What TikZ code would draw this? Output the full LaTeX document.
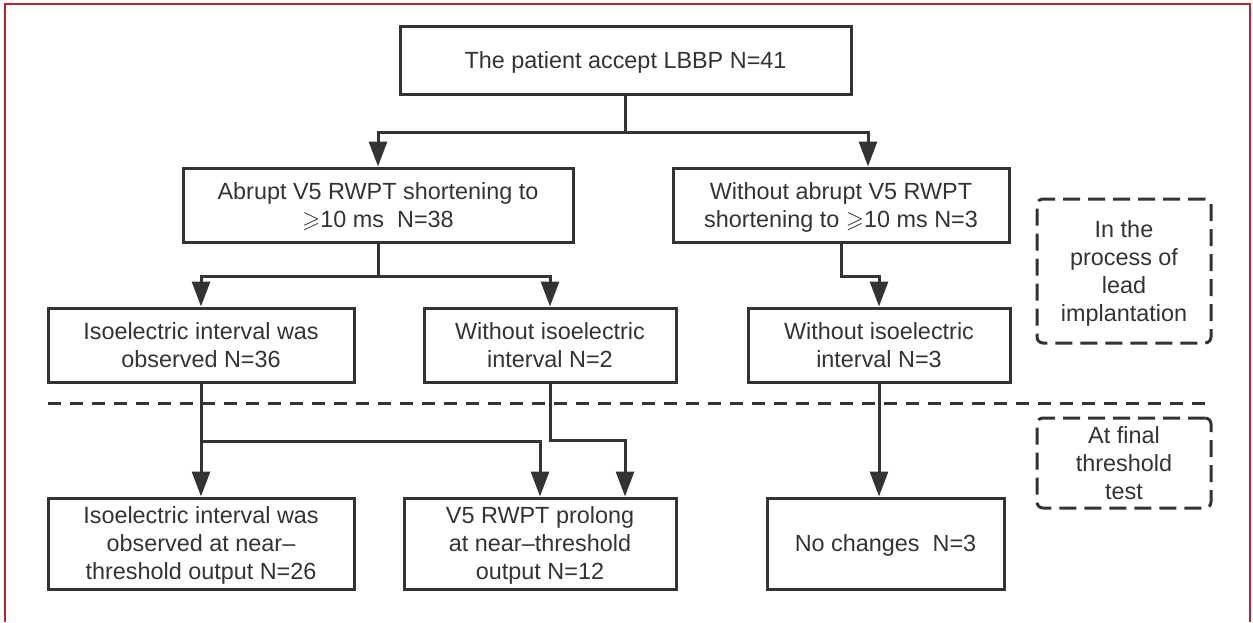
\documentclass[tikz,border=0pt]{standalone}
\usepackage{amssymb}
\usepackage{fontspec}
\setmainfont{Liberation Sans}
\usetikzlibrary{arrows.meta}
\definecolor{ink}{HTML}{333333}
\definecolor{rim}{HTML}{B3262C}
\newcommand{\atleast}{$\geqslant$}
\tikzstyle{stage}=[rectangle, draw=ink, line width=1.5pt, text=ink, align=center, inner sep=2pt, text depth=-2pt, font=\fontsize{11.7}{14}\selectfont]
\tikzstyle{note}=[rectangle, draw=ink, line width=1.5pt, dash pattern=on 8.5pt off 4pt, rounded corners=3pt, text=ink, align=center, minimum width=87pt, inner sep=2pt, text depth=-2pt, font=\fontsize{11.7}{14}\selectfont]
\tikzstyle{wire}=[draw=ink, line width=1.5pt]
\tikzstyle{link}=[wire, -{Triangle[width=9pt, length=12.5pt]}]
\tikzstyle{cut}=[wire, dash pattern=on 6.5pt off 4.5pt]

\begin{document}
\begin{tikzpicture}[x=0.5pt, y=-0.5pt]
                    \useasboundingbox (0,0) rectangle (1253,622);
                    \draw[rim, line width=0.8pt] (5,622) -- (5,4) -- (1250,4) -- (1250,622);
                    \node[stage, minimum width=225.5pt, minimum height=34pt] (top) at (625.5, 60) {The patient accept LBBP N=41};
                    \node[stage, minimum width=195pt, minimum height=37pt] (a1) at (378, 205) {Abrupt V5 RWPT shortening to\\\atleast10 ms\ \ N=38};
                    \node[stage, minimum width=168pt, minimum height=37pt] (b1) at (841, 205) {Without abrupt V5 RWPT\\shortening to \atleast10 ms N=3};
                    \node[stage, minimum width=153pt, minimum height=37pt] (a2) at (201, 345) {Isoelectric interval was\\observed N=36};
                    \node[stage, minimum width=126pt, minimum height=37pt] (b2) at (550, 345) {Without isoelectric\\interval N=2};
                    \node[stage, minimum width=131pt, minimum height=37pt] (c2) at (879, 345) {Without isoelectric\\interval N=3};
                    \node[stage, minimum width=153pt, minimum height=45.5pt] (a3) at (201, 543.5) {Isoelectric interval was\\observed at near--\\threshold output N=26};
                    \node[stage, minimum width=136pt, minimum height=45.5pt] (b3) at (540, 543.5) {V5 RWPT prolong\\at near--threshold\\output N=12};
                    \node[stage, minimum width=118.5pt, minimum height=45.5pt] (c3) at (885.5, 543.5) {No changes\ \ N=3};
                    \node[note, minimum height=72pt] (lead) at (1124, 271) {In the\\process of\\lead\\implantation};
                    \node[note, minimum height=45pt] (final) at (1124, 463) {At final\\threshold\\test};
                    \draw[wire] (top.south) -- ++(0,37) coordinate (s1);
                    \draw[link] (s1) -| (a1.north);
                    \draw[link] (s1) -| ([xshift=13.5pt]b1.north);
                    \draw[wire] (a1.south) -- ++(0,33) coordinate (s2);
                    \draw[link] (s2) -| (a2.north);
                    \draw[link] (s2) -| (b2.north);
                    \draw[link] (b1.south) -- ++(0,33) -| (c2.north);
                    \draw[link] (a2.south) -- (a3.north);
                    \draw[wire] (a2.south) -- ++(0,58) coordinate (s3);
                    \draw[link] (s3) -| (b3.north);
                    \draw[link] (b2.south) -- ++(0,57) -| ([xshift=42.5pt]b3.north);
                    \draw[link] (c2.south) -- (c2.south |- c3.north);
                    \draw[cut] (48,403) -- (1206,403);
                \end{tikzpicture}
\end{document}
